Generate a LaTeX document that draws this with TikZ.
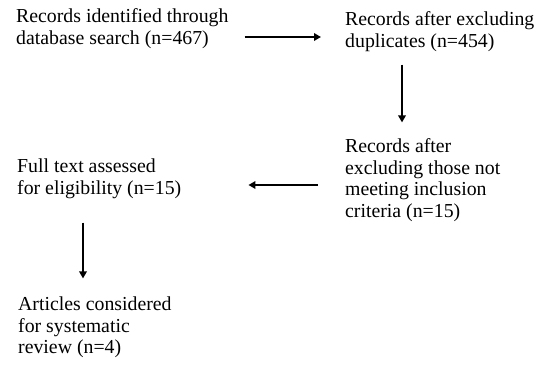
\documentclass[tikz,border=0pt]{standalone}
\usepackage{fontspec}
\setmainfont{Liberation Serif}
\usetikzlibrary{arrows.meta}
\begin{document}
\begin{tikzpicture}[x=1pt,y=-1pt,
  txt/.style={anchor=north west,inner sep=0pt,align=left,font=\fontsize{19.8}{21.7}\selectfont},
  arr/.style={line width=1.8pt,-{Triangle[length=7pt,width=7.5pt]}}]
\useasboundingbox (0,0) rectangle (537,364);
\node[txt] (A) at (16,8.4) {Records identified through\\database search (n=467)};
\node[txt] (B) at (345,11.4) {Records after excluding\\duplicates (n=454)};
\node[txt] (C) at (345,138.4) {Records after\\excluding those not\\meeting inclusion\\criteria (n=15)};
\node[txt] (D) at (17,158.4) {Full text assessed\\for eligibility (n=15)};
\node[txt] (E) at (18,296.4) {Articles considered\\for systematic\\review (n=4)};
\coordinate (y1) at (0,37);
\coordinate (y2) at (0,185);
\coordinate (x1) at (402,0);
\coordinate (x2) at (83,0);
\draw[arr,shorten <=16pt,shorten >=24pt] (A.east |- y1) -- (B.west |- y1);
\draw[arr,shorten <=13pt,shorten >=16pt] (B.south -| x1) -- (C.north -| x1);
\draw[arr,shorten <=27pt,shorten >=67pt] (C.west |- y2) -- (D.east |- y2);
\draw[arr,shorten <=24pt,shorten >=18pt] (D.south -| x2) -- (E.north -| x2);
\end{tikzpicture}
\end{document}
